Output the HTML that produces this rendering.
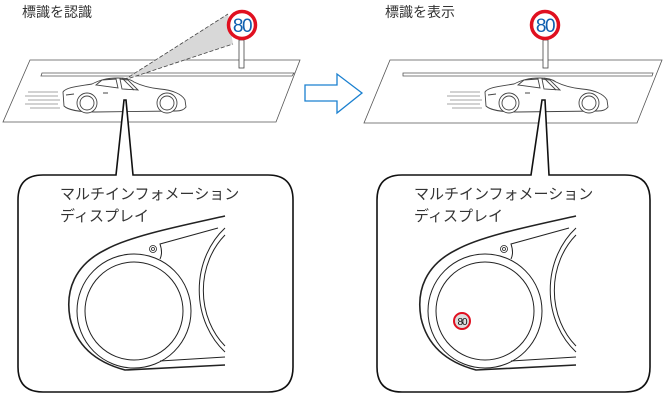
<!DOCTYPE html>
<html><head><meta charset="utf-8"><style>
html,body{margin:0;padding:0;background:#fff;}
svg{display:block;}
text{font-family:"Liberation Sans","Noto Sans CJK JP",sans-serif;fill:#333;}
</style></head><body>
<svg width="664" height="402" viewBox="0 0 664 402" xmlns="http://www.w3.org/2000/svg">
<defs>
<g id="car" fill="#fff" stroke="#444" stroke-width="0.9">
  <path d="M63,92 C66,87 80,86 92,84 C100,80 106,78 118,78 C124,78 130,79 134,82 C142,86 150,88 160,89 C172,90 182,94 185,100 L186,107 C184,110 180,111 176,111 L95,112 C80,112 68,110 64,106 Z"/>
  <path d="M96,85 L102,80 L116,79 L118,88 Z" fill="none"/>
  <path d="M120,79 L128,80 L138,90 L122,89 Z" fill="none"/>
  <path d="M122,78 L134,90" fill="none"/>
  <circle cx="87" cy="103" r="10"/><circle cx="87" cy="103" r="7"/>
  <circle cx="167" cy="103" r="10"/><circle cx="167" cy="103" r="7"/>
  <path d="M103,93 L108,93 M66,95 L74,94" fill="none"/>
</g>
</defs>

<!-- Left panel -->
<text x="22" y="17" font-size="14">標識を認識</text>
<polygon points="30,60 300,60 276,122 3,122" fill="#fff" stroke="#555" stroke-width="0.8"/>
<path d="M42,73 L294,73 L292,76 L41,76 Z" fill="#fff" stroke="#555" stroke-width="0.8"/>
<polygon points="124,80 228,14 233,44" fill="#d8d8d8"/>
<path d="M124,80 L228,14 M124,80 L233,44" stroke="#444" stroke-width="0.8" stroke-dasharray="4,2"/>
<rect x="239" y="40" width="5" height="28" fill="#fff" stroke="#444" stroke-width="0.8"/>
<circle cx="242" cy="25" r="13.5" fill="#fff" stroke="#e01020" stroke-width="3.5"/>
<text x="242" y="32" font-size="19" text-anchor="middle" style="fill:#1060b0" letter-spacing="-1.5">80</text>
<g stroke="#888" stroke-width="0.8"><path d="M28,92 H58 M25,96 H58 M28,100 H60 M25,104 H58 M30,108 H60"/></g>
<use href="#car"/>

<!-- left bubble -->
<path d="M116,175 L124,100 L126,100 L133,175 L268,175 Q293,175 293,200 L293,367 Q293,392 268,392 L43,392 Q18,392 18,367 L18,200 Q18,175 43,175 Z" fill="#fff" stroke="#111" stroke-width="1.6"/>
<text x="60" y="199" font-size="15">マルチインフォメーション</text>
<text x="60" y="221" font-size="15">ディスプレイ</text>
<g fill="none" stroke="#222">
  <path d="M225,216 C180,226 130,236 105,250 C75,265 65,290 70,318 C76,345 95,362 125,370 L225,365" stroke-width="1.6"/>
  <path d="M218,228 L160,244 C162,250 162,255 160,259"/>
  <circle cx="134" cy="311" r="49"/>
  <circle cx="134" cy="311" r="57"/>
  <path d="M225,228 A70,80 0 0,0 225,352"/>
  <path d="M225,235 A64,74 0 0,0 225,346"/>
  <path d="M160,361 L225,357"/>
  <circle cx="153" cy="249" r="3.5" stroke-width="0.8"/><circle cx="153" cy="249" r="1.5" stroke-width="0.8"/>
</g>

<!-- arrow -->
<path d="M305,85 L337,85 L337,74 L362,93 L337,113 L337,101 L305,101 Z" fill="#fff" stroke="#1a80d0" stroke-width="1.3"/>

<!-- Right panel -->
<text x="385" y="17" font-size="14">標識を表示</text>
<polygon points="390,60 662,60 637,123 364,123" fill="#fff" stroke="#555" stroke-width="0.8"/>
<path d="M403,73 L653,73 L652,76 L403,76 Z" fill="#fff" stroke="#555" stroke-width="0.8"/>
<rect x="543" y="40" width="5" height="28" fill="#fff" stroke="#444" stroke-width="0.8"/>
<circle cx="545" cy="25" r="13.5" fill="#fff" stroke="#e01020" stroke-width="3.5"/>
<text x="545" y="32" font-size="19" text-anchor="middle" style="fill:#1060b0" letter-spacing="-1.5">80</text>
<g stroke="#888" stroke-width="0.8"><path d="M450,92 H480 M447,96 H480 M450,100 H482 M447,104 H480 M452,108 H482"/></g>
<use href="#car" transform="translate(422,0)"/>

<path d="M531,175 L542,100 L545,100 L549,175 L625,175 Q650,175 650,200 L650,367 Q650,392 625,392 L402,392 Q377,392 377,367 L377,200 Q377,175 402,175 Z" fill="#fff" stroke="#111" stroke-width="1.6"/>
<text x="414" y="199" font-size="15">マルチインフォメーション</text>
<text x="414" y="221" font-size="15">ディスプレイ</text>
<g fill="none" stroke="#222" transform="translate(351,0)">
  <path d="M225,216 C180,226 130,236 105,250 C75,265 65,290 70,318 C76,345 95,362 125,370 L225,365" stroke-width="1.6"/>
  <path d="M218,228 L160,244 C162,250 162,255 160,259"/>
  <circle cx="134" cy="311" r="49"/>
  <circle cx="134" cy="311" r="57"/>
  <path d="M225,228 A70,80 0 0,0 225,352"/>
  <path d="M225,235 A64,74 0 0,0 225,346"/>
  <path d="M160,361 L225,357"/>
  <circle cx="153" cy="249" r="3.5" stroke-width="0.8"/><circle cx="153" cy="249" r="1.5" stroke-width="0.8"/>
</g>
<circle cx="462" cy="321" r="8" fill="#ddd" stroke="#e01020" stroke-width="2"/>
<text x="462" y="325" font-size="10" text-anchor="middle" style="fill:#111" letter-spacing="-1">80</text>
</svg>
</body></html>
